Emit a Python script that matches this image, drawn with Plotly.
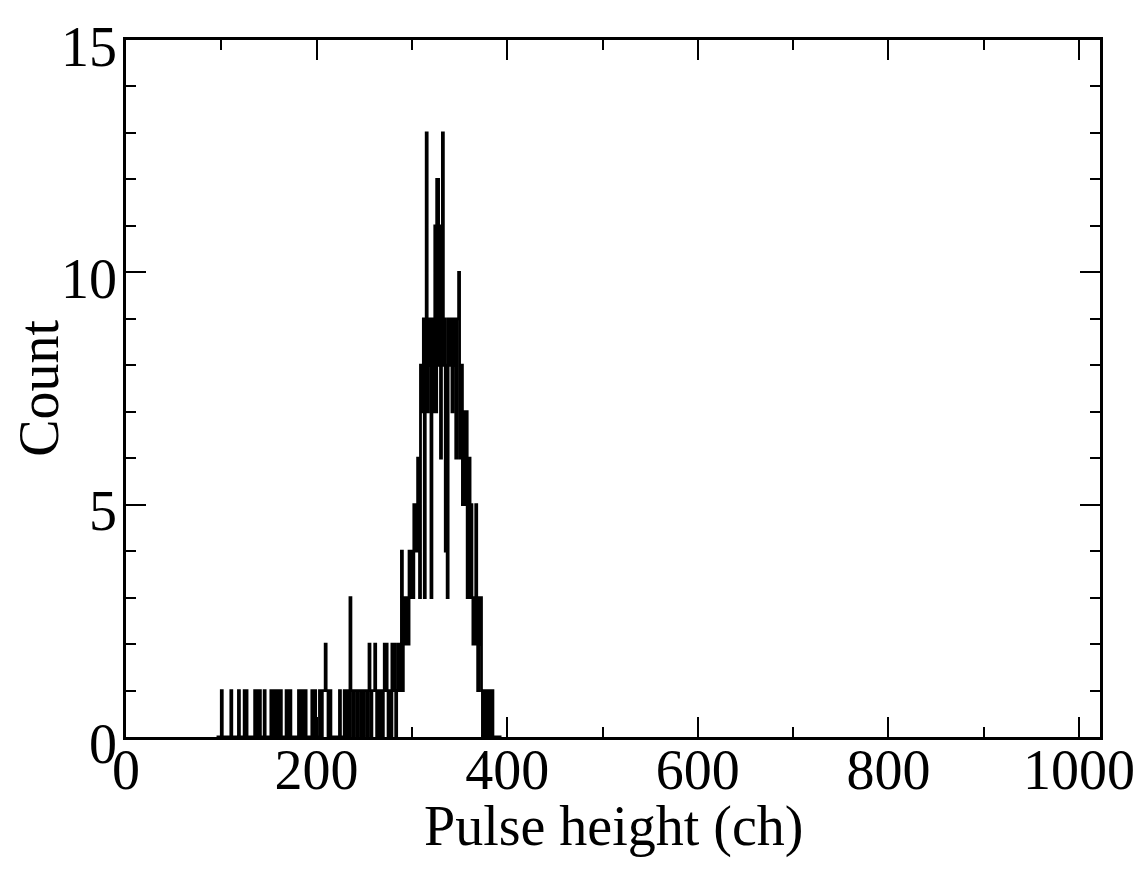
import plotly.graph_objects as go

# pulse height spectrum, one count value per channel starting at ch_start
ch_start = 95
counts = [
    # 95-134
    0, 0, 0, 0, 0, 1, 0, 0, 0, 0, 0, 0, 0, 0, 0, 1, 0, 0, 0, 0,
    0, 0, 0, 1, 0, 0, 0, 0, 0, 1, 0, 1, 0, 0, 0, 0, 0, 0, 0, 0,
    # 135-174
    1, 1, 0, 1, 0, 1, 0, 0, 0, 0, 1, 0, 0, 0, 0, 0, 0, 1, 0, 1,
    0, 0, 1, 0, 1, 0, 0, 1, 0, 0, 0, 0, 0, 1, 0, 1, 0, 1, 0, 0,
    # 175-214
    0, 0, 0, 0, 0, 0, 1, 0, 0, 1, 0, 1, 0, 1, 0, 0, 0, 0, 0, 0,
    1, 1, 0, 1, 0, 0, 0, 0, 1, 1, 0, 1, 1, 1, 2, 1, 1, 0, 1, 1,
    # 215-254
    0, 0, 0, 0, 0, 0, 0, 0, 0, 1, 0, 0, 0, 0, 1, 1, 0, 1, 1, 0,
    3, 1, 1, 0, 1, 1, 1, 0, 1, 1, 1, 0, 1, 1, 0, 1, 1, 1, 0, 1,
    # 255-294
    2, 1, 0, 1, 1, 1, 2, 1, 0, 1, 1, 0, 1, 1, 0, 1, 2, 1, 2, 1,
    0, 1, 1, 0, 2, 1, 2, 1, 0, 1, 2, 1, 2, 1, 4, 1, 3, 3, 2, 3,
    # 295-334
    3, 2, 4, 3, 4, 4, 3, 5, 4, 5, 4, 6, 5, 3, 8, 7, 8, 9, 3, 8,
    13, 7, 8, 9, 8, 3, 9, 7, 9, 11, 7, 12, 12, 8, 11, 6, 9, 13, 8, 9,
    # 335-374
    4, 8, 3, 9, 9, 8, 9, 7, 9, 9, 8, 6, 9, 9, 10, 6, 8, 8, 5, 7,
    6, 5, 7, 3, 4, 6, 3, 5, 3, 2, 3, 2, 5, 3, 1, 3, 2, 3, 1, 0,
    # 375-394
    1, 1, 0, 1, 0, 0, 1, 0, 1, 1, 0, 0, 0, 0, 0, 0, 0, 0, 0, 0,
]
channels = [ch_start + i for i in range(len(counts))]

x_ticks = [0, 200, 400, 600, 800, 1000]
y_ticks = [0, 5, 10, 15]

font = "Liberation Serif, Times New Roman, serif"

fig = go.Figure()
fig.add_trace(go.Scatter(x=channels, y=counts, mode="lines", line_shape="hv",
                         line=dict(color="black", width=2.8), showlegend=False))

axis_common = dict(showgrid=False, zeroline=False, showline=True, linecolor="black",
                   linewidth=2.5, mirror="allticks", ticks="inside", ticklen=20,
                   tickwidth=2, tickcolor="black", automargin=False,
                   tickfont=dict(family=font, size=56, color="black"))

fig.update_xaxes(range=[0, 1022], tickvals=x_ticks, ticklabelstandoff=-18,
                 minor=dict(dtick=100, tick0=0, ticklen=10, tickwidth=2, ticks="inside",
                            tickcolor="black"),
                 **axis_common)
fig.update_yaxes(range=[0, 15], tickvals=y_ticks, ticklabelstandoff=-5, ticklabelshift=6,
                 minor=dict(dtick=1, tick0=0, ticklen=10, tickwidth=2, ticks="inside",
                            tickcolor="black"),
                 **axis_common)

# axis titles as annotations to pin their positions
fig.add_annotation(text="Pulse height (ch)", xref="paper", yref="paper", x=0.5, y=-0.128,
                   xanchor="center", yanchor="middle", showarrow=False,
                   font=dict(family=font, size=56, color="black"))
fig.add_annotation(text="Count", xref="paper", yref="paper", x=-0.09, y=0.5,
                   xanchor="center", yanchor="middle", textangle=-90, showarrow=False,
                   font=dict(family=font, size=56, color="black"))

# page body adds an 8px offset, so size the figure to fit inside the window
fig.update_layout(width=1137, height=871, plot_bgcolor="white", paper_bgcolor="white",
                  margin=dict(l=118, r=45, t=32, b=142))

fig.write_html("out.html")
